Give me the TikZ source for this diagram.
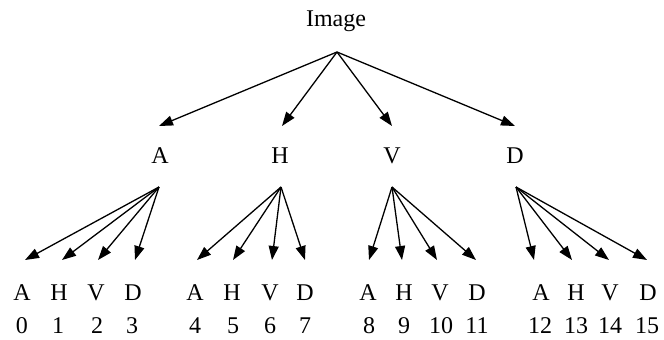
\documentclass[tikz,border=0pt]{standalone}
\usepackage{fontspec}
\setmainfont{Liberation Serif}
\usetikzlibrary{arrows.meta}
\begin{document}
\begin{tikzpicture}[x=1pt,y=-1pt,
  lbl/.style={anchor=base,inner sep=0pt,font=\fontsize{24}{28}\selectfont},
  arr/.style={line width=1.3pt,-{Triangle[length=14pt,width=10pt]}}]
\useasboundingbox (0,0) rectangle (664,340);
% root
\node[lbl] (img) at (336,27) {Image};
\coordinate (r) at (337,52);
% level 1
\node[lbl] (A) at (160,163) {A};
\node[lbl] (H) at (280,163) {H};
\node[lbl] (V) at (392,163) {V};
\node[lbl] (D) at (515,163) {D};
\coordinate (tA) at (159,126);
\coordinate (tH) at (282,126);
\coordinate (tV) at (392,126);
\coordinate (tD) at (515,126);
\foreach \t in {tA,tH,tV,tD} \draw[arr] (r) -- (\t);
\coordinate (oA) at (159,187);
\coordinate (oH) at (281,187);
\coordinate (oV) at (392,187);
\coordinate (oD) at (516,187);
% level 2 labels
\foreach \g/\xa/\xb/\xc/\xd in {A/22/59/96/133,H/195/232/270/305,V/368/404/440/477,D/541/576/610/648}{
  \node[lbl] (\g a) at (\xa,300) {A};
  \node[lbl] (\g h) at (\xb,300) {H};
  \node[lbl] (\g v) at (\xc,300) {V};
  \node[lbl] (\g d) at (\xd,300) {D};
}
\node[lbl] (n0) at (22,333) {0};
\node[lbl] (n1) at (58,333) {1};
\node[lbl] (n2) at (97,333) {2};
\node[lbl] (n3) at (132,333) {3};
\node[lbl] (n4) at (195,333) {4};
\node[lbl] (n5) at (233,333) {5};
\node[lbl] (n6) at (270,333) {6};
\node[lbl] (n7) at (305,333) {7};
\node[lbl] (n8) at (369,333) {8};
\node[lbl] (n9) at (404,333) {9};
\node[lbl] (n10) at (441,333) {10};
\node[lbl] (n11) at (477,333) {11};
\node[lbl] (n12) at (540,333) {12};
\node[lbl] (n13) at (576,333) {13};
\node[lbl] (n14) at (610,333) {14};
\node[lbl] (n15) at (647,333) {15};
% level 2 tips
\foreach \g/\xa/\xb/\xc/\xd in {A/25/62/98/135,H/197/233/272/305,V/369/402/437/476,D/534/572/609/647}{
  \coordinate (t\g 1) at (\xa,260);
  \coordinate (t\g 2) at (\xb,260);
  \coordinate (t\g 3) at (\xc,260);
  \coordinate (t\g 4) at (\xd,260);
  \foreach \k in {1,2,3,4} \draw[arr] (o\g) -- (t\g\k);
}
\end{tikzpicture}
\end{document}
